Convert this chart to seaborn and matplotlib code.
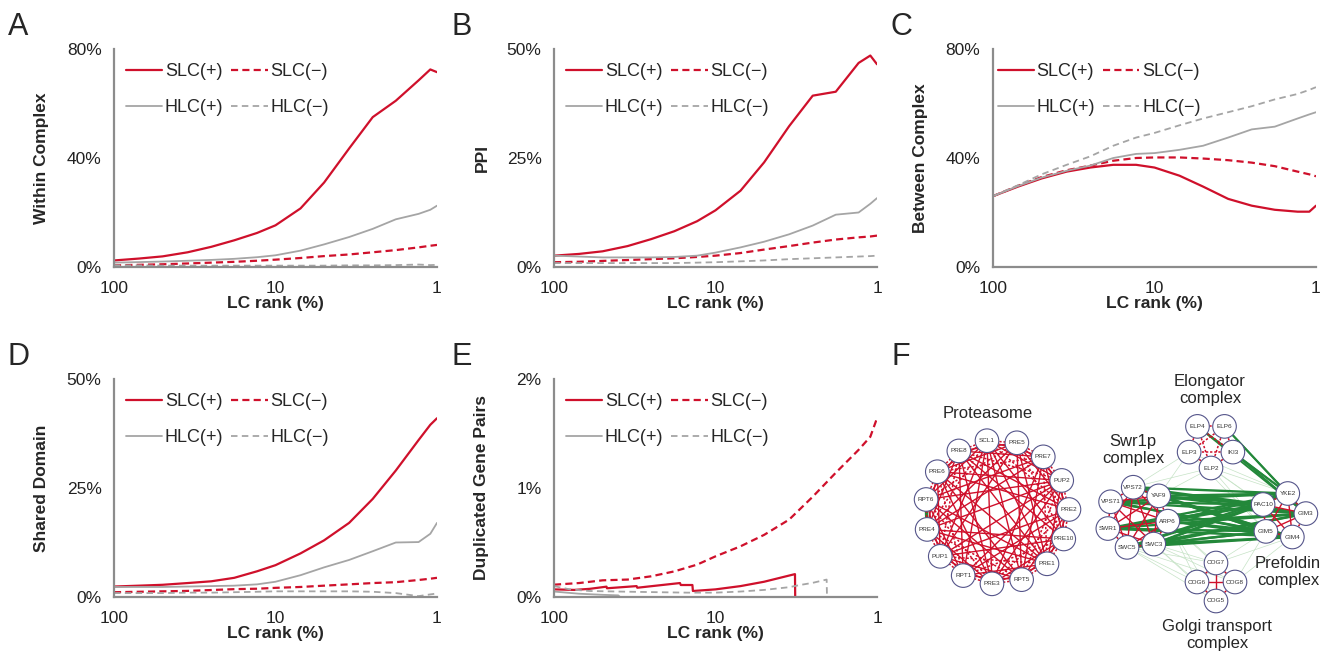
import numpy as np
import pandas as pd
import seaborn as sns
import matplotlib.pyplot as plt
from matplotlib.lines import Line2D
from matplotlib.patches import Circle
from matplotlib.ticker import NullLocator

RED = '#cf102b'
GRAY = '#a5a5a5'
AXIS = '#8c8c8c'
GREEN = '#23883a'
LIGHT_GREEN = '#c6e3c6'

SERIES = ['SLC(+)', 'SLC(−)', 'HLC(+)', 'HLC(−)']
RANK = [100, 70, 50, 35, 25, 18, 13, 10, 7, 5, 3.5, 2.5, 1.8, 1.3, 1.1, 1]

# A - within complex (%)
within_slc_pos = [2.4, 3.1, 3.9, 5.4, 7.4, 9.8, 12.5, 15.3, 21.5, 31, 43.5, 55, 61, 68.5, 72.5, 71.5]
within_slc_neg = [0.6, 0.8, 1.0, 1.3, 1.6, 1.9, 2.3, 2.7, 3.3, 4.0, 4.6, 5.4, 6.2, 7.2, 7.8, 8.1]
within_hlc_pos = [1.6, 1.8, 2.0, 2.3, 2.6, 3.0, 3.6, 4.3, 6.0, 8.3, 11, 14, 17.5, 19.5, 21, 22.5]
within_hlc_neg = [0.6, 0.6, 0.5, 0.5, 0.5, 0.5, 0.5, 0.5, 0.5, 0.5, 0.6, 0.6, 0.7, 0.9, 0.7, 0.8]

# B - PPI (%)
ppi_slc_pos = [2.6, 3.0, 3.6, 4.8, 6.4, 8.2, 10.5, 13.0, 17.5, 24, 32.3, 39.3, 40.2, 46.8, 48.5, 46.5]
ppi_slc_neg = [1.1, 1.2, 1.4, 1.6, 1.8, 2.0, 2.3, 2.6, 3.2, 4.0, 4.8, 5.6, 6.3, 6.8, 7.0, 7.2]
ppi_hlc_pos = [2.6, 2.4, 2.2, 2.2, 2.2, 2.3, 2.6, 3.3, 4.5, 5.8, 7.5, 9.5, 12.0, 12.5, 14.5, 15.8]
ppi_hlc_neg = [0.9, 0.9, 0.9, 0.9, 0.9, 0.9, 1.0, 1.1, 1.3, 1.5, 1.8, 2.0, 2.2, 2.4, 2.5, 2.6]

# C - between complex (%)
between_slc_pos = [26, 29.5, 32.5, 35, 36.5, 37.5, 37.5, 36.5, 33.5, 29.5, 25, 22.5, 21, 20.3, 20.3, 22.5]
between_slc_neg = [26, 29.8, 33, 35.5, 37.2, 39, 40, 40.2, 40.2, 39.8, 39.2, 38.3, 37, 35, 34, 33.3]
between_hlc_pos = [26, 29.7, 32.8, 35.3, 37.2, 40, 41.5, 41.8, 43, 44.5, 47.5, 50.5, 51.5, 54.5, 56, 56.8]
between_hlc_neg = [26, 30, 34, 37.5, 40.6, 44.5, 47.5, 49.2, 52, 54.5, 56.8, 59, 61.5, 63.5, 65, 66]

# D - shared domain (%)
domain_slc_pos = [2.4, 2.6, 2.8, 3.2, 3.6, 4.4, 5.9, 7.3, 10.0, 13.0, 17, 22.5, 29, 36, 39.5, 41]
domain_slc_neg = [1.1, 1.2, 1.3, 1.4, 1.6, 1.8, 1.9, 2.1, 2.3, 2.6, 2.9, 3.2, 3.4, 3.9, 4.2, 4.4]
domain_hlc_pos = [2.3, 2.3, 2.3, 2.4, 2.5, 2.6, 2.9, 3.5, 5.0, 6.8, 8.5, 10.5, 12.5, 12.6, 14.5, 17]
domain_hlc_neg = [0.9, 0.9, 0.9, 1.0, 1.0, 1.1, 1.2, 1.3, 1.3, 1.3, 1.3, 1.2, 0.9, 0.2, 0.6, 0.8]

# E - duplicated gene pairs (%)
dup_slc_neg = [0.113, 0.128, 0.153, 0.16, 0.19, 0.235, 0.297, 0.373, 0.465, 0.57, 0.71, 0.92, 1.14, 1.35, 1.47, 1.64]
dup_slc_pos_rank = [100, 75, 60, 47.3, 47.0, 30.8, 30.5, 16.6, 16.4, 13.9, 13.8, 10, 7, 5, 3.22, 3.21]
dup_slc_pos = [0.07, 0.065, 0.075, 0.095, 0.08, 0.10, 0.085, 0.128, 0.11, 0.11, 0.055, 0.07, 0.10, 0.14, 0.21, 0.0]
dup_hlc_neg_rank = [100, 80, 60, 40, 25, 15, 10, 7, 5, 3.5, 3, 2.5, 2.05, 2.04]
dup_hlc_neg = [0.10, 0.07, 0.055, 0.05, 0.045, 0.04, 0.04, 0.05, 0.065, 0.09, 0.11, 0.13, 0.16, 0.0]
dup_hlc_pos_rank = [100, 70, 50, 40, 39]
dup_hlc_pos = [0.05, 0.03, 0.02, 0.015, 0.0]

PALETTE = {'SLC(+)': RED, 'SLC(−)': RED, 'HLC(+)': GRAY, 'HLC(−)': GRAY}
DASHES = {'SLC(+)': '', 'SLC(−)': (3.2, 1.9), 'HLC(+)': '', 'HLC(−)': (3.6, 2.4)}
WIDTHS = {'SLC(+)': 1.6, 'SLC(−)': 1.6, 'HLC(+)': 1.3, 'HLC(−)': 1.3}

sns.set_style('white')
plt.rcParams['font.family'] = ['Liberation Sans', 'DejaVu Sans']

W, H = 1331, 655
fig = plt.figure(figsize=(W / 100, H / 100), dpi=100)


def px_axes(left, top, width=323, height=218):
    return fig.add_axes([left / W, 1 - (top + height) / H, width / W, height / H])


def long_df(pairs):
    frames = []
    for name, (ranks, vals) in zip(SERIES, pairs):
        frames.append(pd.DataFrame({'rank': ranks, 'value': vals, 'series': name}))
    return pd.concat(frames, ignore_index=True)


def line_panel(ax, df, ylabel, ymax, yticks, legend_x=0.037):
    sns.lineplot(data=df, x='rank', y='value', hue='series', style='series', size='series',
                 hue_order=SERIES, style_order=SERIES, size_order=SERIES,
                 palette=PALETTE, dashes=DASHES, sizes=WIDTHS,
                 estimator=None, sort=False, legend=False, ax=ax)
    ax.set_xscale('log')
    ax.set_xlim(100, 1)
    ax.set_xticks([100, 10, 1])
    ax.set_xticklabels(['100', '10', '1'])
    ax.xaxis.set_minor_locator(NullLocator())
    ax.set_ylim(0, ymax)
    ax.set_yticks(yticks)
    ax.set_yticklabels([f'{t:g}%' for t in yticks])
    for s in ['top', 'right']:
        ax.spines[s].set_visible(False)
    for s in ['left', 'bottom']:
        ax.spines[s].set_color(AXIS)
        ax.spines[s].set_linewidth(1.6)
    ax.tick_params(axis='x', direction='in', length=5, width=1.4, color=AXIS, pad=10, labelsize=12.5,
                   labelcolor='#222222')
    ax.tick_params(axis='y', direction='out', length=4, width=1.4, color=AXIS, pad=5, labelsize=12.5,
                   labelcolor='#222222')
    ax.set_xlabel('LC rank (%)', fontsize=12.5, fontweight='bold')
    ax.set_ylabel(ylabel, fontsize=12.5, fontweight='bold')
    ax.xaxis.set_label_coords(0.5, -0.135)
    ax.yaxis.set_label_coords(-0.2, 0.5)
    handles = []
    for name in ['SLC(+)', 'HLC(+)', 'SLC(−)', 'HLC(−)']:
        ln = Line2D([], [], color=PALETTE[name], lw=WIDTHS[name])
        if DASHES[name]:
            ln.set_dashes(DASHES[name])
        handles.append(ln)
    ax.legend(handles, ['SLC(+)', 'HLC(+)', 'SLC(−)', 'HLC(−)'], ncol=2, frameon=False,
              loc='upper left', bbox_to_anchor=(legend_x, 0.935), borderpad=0, borderaxespad=0,
              handlelength=2.0, handletextpad=0.15, columnspacing=0.45, labelspacing=1.05,
              fontsize=13)


axA = px_axes(114, 49)
line_panel(axA, long_df([(RANK, within_slc_pos), (RANK, within_slc_neg),
                         (RANK, within_hlc_pos), (RANK, within_hlc_neg)]),
           'Within Complex', 80, [0, 40, 80])

axB = px_axes(554, 49)
line_panel(axB, long_df([(RANK, ppi_slc_pos), (RANK, ppi_slc_neg),
                         (RANK, ppi_hlc_pos), (RANK, ppi_hlc_neg)]),
           'PPI', 50, [0, 25, 50])

axC = px_axes(993, 49)
line_panel(axC, long_df([(RANK, between_slc_pos), (RANK, between_slc_neg),
                         (RANK, between_hlc_pos), (RANK, between_hlc_neg)]),
           'Between Complex', 80, [0, 40, 80], legend_x=0.015)

axD = px_axes(114, 379)
line_panel(axD, long_df([(RANK, domain_slc_pos), (RANK, domain_slc_neg),
                         (RANK, domain_hlc_pos), (RANK, domain_hlc_neg)]),
           'Shared Domain', 50, [0, 25, 50])

axE = px_axes(554, 379)
line_panel(axE, long_df([(dup_slc_pos_rank, dup_slc_pos), (RANK, dup_slc_neg),
                         (dup_hlc_pos_rank, dup_hlc_pos), (dup_hlc_neg_rank, dup_hlc_neg)]),
           'Duplicated Gene Pairs', 2, [0, 1, 2])

for letter, x, y in [('A', 8, 12), ('B', 451, 12), ('C', 890, 12),
                     ('D', 8, 342), ('E', 451, 342), ('F', 892, 342)]:
    fig.text(x / W, 1 - y / H, letter, fontsize=22, ha='left', va='top')

# F - complex network
PROTEASOME = ['SCL1', 'PRE5', 'PRE7', 'PUP2', 'PRE2', 'PRE10', 'PRE1', 'RPT5', 'PRE3',
              'RPT1', 'PUP1', 'PRE4', 'RPT6', 'PRE6', 'PRE8']
ELONGATOR = ['ELP4', 'ELP6', 'IKI3', 'ELP2', 'ELP3']
SWR1 = ['VPS72', 'YAF9', 'ARP6', 'SWC3', 'SWC5', 'SWR1', 'VPS71']
PREFOLDIN = ['YKE2', 'GIM3', 'GIM4', 'GIM5', 'PAC10']
GOLGI = ['COG7', 'COG8', 'COG5', 'COG6']

axF = fig.add_axes([880 / W, 0, 451 / W, 325 / H])
axF.set_xlim(880, 1331)
axF.set_ylim(655, 330)
axF.axis('off')


def ring(names, cx, cy, r, start):
    pos = {}
    n = len(names)
    for i, name in enumerate(names):
        t = np.deg2rad(start - i * 360 / n)
        pos[name] = (cx + r * np.cos(t), cy - r * np.sin(t))
    return pos


pos = {}
pos.update(ring(PROTEASOME, 997, 512, 72, 98))
pos.update(ring(ELONGATOR, 1211, 445, 23, 126))
pos.update(ring(SWR1, 1137, 518, 31, 97))
pos.update(ring(PREFOLDIN, 1283, 516, 23, 78))
pos.update(ring(GOLGI, 1216, 582, 19, 90))


def edge(a, b, **kw):
    axF.plot([pos[a][0], pos[b][0]], [pos[a][1], pos[b][1]], solid_capstyle='butt', **kw)


def ring_step(names, i, j):
    d = abs(i - j)
    return min(d, len(names) - d)


DOT = (0, (1.5, 1.2))

# faint links between complexes
for a in SWR1[2:5]:
    for b in GOLGI:
        edge(a, b, color=LIGHT_GREEN, lw=0.5, zorder=1)
for a in ['VPS72', 'YAF9']:
    for b in ['ELP3', 'ELP2']:
        edge(a, b, color=LIGHT_GREEN, lw=0.5, zorder=1)
for a in ['GIM4', 'GIM5']:
    for b in ['COG7', 'COG8']:
        edge(a, b, color=LIGHT_GREEN, lw=0.5, zorder=1)
for a in ['PAC10', 'GIM5', 'YKE2']:
    for b in ['ELP2', 'ELP3']:
        edge(a, b, color=LIGHT_GREEN, lw=0.5, zorder=1)

# strong links between complexes
for a in SWR1:
    for b in PREFOLDIN:
        edge(a, b, color=GREEN, lw=1.7, zorder=2)
for a in ['ELP4', 'ELP6', 'IKI3']:
    for b in ['YKE2', 'GIM3']:
        edge(a, b, color=GREEN, lw=1.4, zorder=2)
edge('RPT6', 'PRE4', color=GREEN, lw=2.5, zorder=2)

# links within complexes
for names, solid_steps, dotted_steps in [(PROTEASOME, [2, 3, 5, 6], [1, 4]),
                                         (ELONGATOR, [], [1, 2]),
                                         (SWR1, [2, 3], [1]),
                                         (PREFOLDIN, [2], [1]),
                                         (GOLGI, [2], [1])]:
    for i in range(len(names)):
        for j in range(i + 1, len(names)):
            s = ring_step(names, i, j)
            if s in solid_steps:
                edge(names[i], names[j], color=RED, lw=1.0, zorder=3)
            elif s in dotted_steps:
                edge(names[i], names[j], color=RED, lw=1.1, ls=DOT, zorder=3)
            elif names is PROTEASOME and s == 7 and i % 3 == 0:
                edge(names[i], names[j], color=RED, lw=1.0, zorder=3)

for name, (x, y) in pos.items():
    axF.add_patch(Circle((x, y), 11.8, facecolor='white', edgecolor='#55558a', lw=0.8, zorder=5))
    axF.text(x, y, name, fontsize=4.6, ha='center', va='center', color='#333333', zorder=6)

for label, x, y in [('Proteasome', 988, 413), ('Elongator\ncomplex', 1210, 390),
                    ('Swr1p\ncomplex', 1133, 450), ('Prefoldin\ncomplex', 1288, 572),
                    ('Golgi transport\ncomplex', 1217, 635)]:
    axF.text(x, y, label, fontsize=12, ha='center', va='center', linespacing=1.15, zorder=7)

fig.savefig('out.png', dpi=100)
